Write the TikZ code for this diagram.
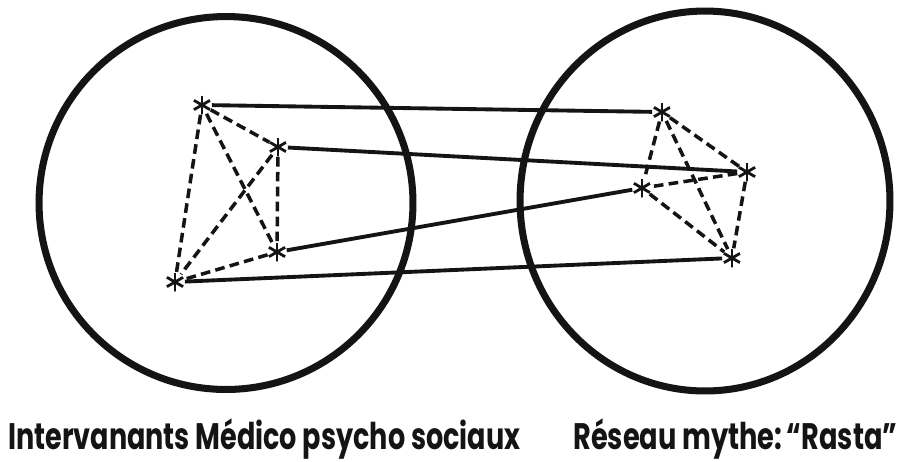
\documentclass[tikz,border=0pt]{standalone}
\usepackage{graphicx}
\usepackage{fontspec}
\setmainfont{Poppins}
\usetikzlibrary{shapes.geometric}
\definecolor{encre}{HTML}{141414}

\begin{document}
\begin{tikzpicture}[x=0.02cm, y=-0.02cm,
    cercle/.style={draw=encre, line width=4pt, ellipse, inner sep=0pt},
    etoile/.style={circle, inner sep=0pt, minimum size=0.38cm,
      path picture={\foreach \a in {90,30,150}
        \draw[encre, line width=1.6pt, shift={(path picture bounding box.center)}] (\a:0.19cm) -- (\a+180:0.19cm);}},
    lien/.style={encre, line width=2.2pt},
    pointille/.style={encre, line width=2pt, dash pattern=on 5.5pt off 3pt},
    titre/.style={anchor=base west, inner sep=0pt, text=encre, font=\fontsize{21}{21}\selectfont\bfseries}]
    \useasboundingbox (0,0) rectangle (899,461);
    \node[cercle, minimum width=7.48cm, minimum height=7.46cm] (gauche) at (226,203) {};
    \node[cercle, minimum width=7.4cm, minimum height=7.6cm] (droite) at (705,201) {};
    \node[etoile] (a) at (202,105) {};
    \node[etoile] (b) at (278,147) {};
    \node[etoile] (c) at (277,252) {};
    \node[etoile] (d) at (175,282) {};
    \node[etoile] (e) at (662,112) {};
    \node[etoile] (f) at (747,172) {};
    \node[etoile] (g) at (642,188) {};
    \node[etoile] (h) at (732,258) {};
    \foreach \u/\v in {a/b, a/c, a/d, b/c, b/d, c/d, e/f, e/g, e/h, f/g, f/h, g/h}
      \draw[pointille] (\u) -- (\v);
    \foreach \u/\v in {a/e, b/f, c/g, d/h}
      \draw[lien] (\u) -- (\v);
    \node[titre] (legendegauche) at (8,449) {\resizebox{10.24cm}{\height}{Intervanants Médico psycho sociaux}};
    \node[titre] (legendedroite) at (573,449) {\resizebox{6.48cm}{\height}{Réseau mythe:\,``Rasta''}};
  \end{tikzpicture}
\end{document}
